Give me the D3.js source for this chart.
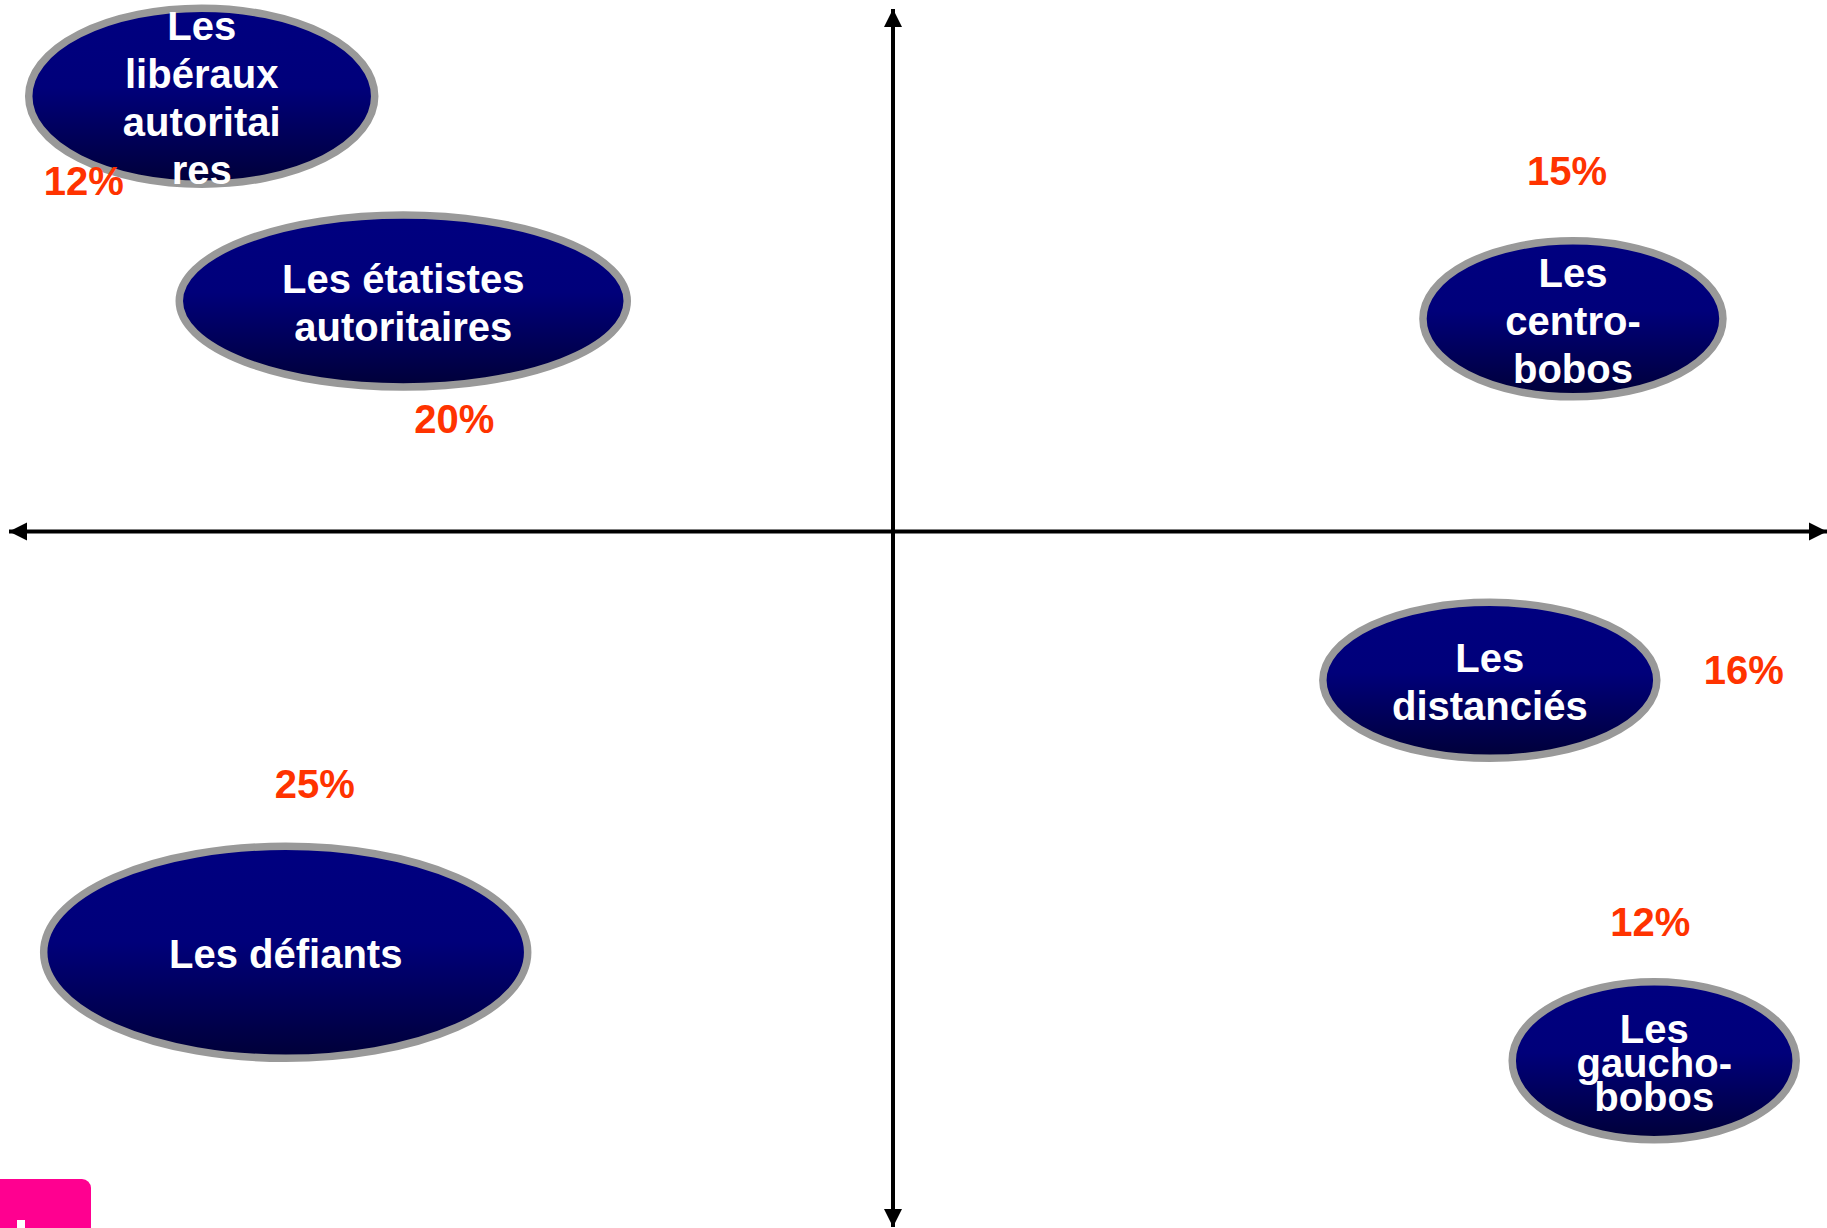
<!DOCTYPE html>
<html>
<head>
<meta charset="utf-8">
<script src="https://cdn.jsdelivr.net/npm/d3@7"></script>
<style>
  html, body { margin: 0; padding: 0; background: #fff; overflow: hidden; }
  text { font-family: "Liberation Sans", Arial, sans-serif; font-weight: bold; }
</style>
</head>
<body>
<div id="chart"></div>
<script>
const width = 1827;
const height = 1228;

// segments of the map
const segments = ["libéraux", "étatistes", "centro-bobos", "distanciés", "défiants", "gaucho-bobos"];
const labelLines = [
  ["Les", "libéraux", "autoritai", "res"],
  ["Les étatistes", "autoritaires"],
  ["Les", "centro-", "bobos"],
  ["Les", "distanciés"],
  ["Les défiants"],
  ["Les", "gaucho-", "bobos"]
];
const shares = [12, 20, 15, 16, 25, 12];
// position on the two axes (-1 .. 1)
const posX = [-0.782, -0.554, 0.728, 0.639, -0.687, 0.815];
const posY = [0.833, 0.441, 0.407, -0.214, -0.605, -0.761];

// layout: bubble radii and where each share label sits relative to its bubble
const bubbleRx = [173, 224, 150, 167, 242, 142];
const bubbleRy = [88, 86, 78, 78, 106, 79];
const shareDx = [-118, 51, -6, 254, 29, -4];
const shareDy = [85, 118, -148, -10, -168, -139];
const lineGap = [48, 48, 48, 48, 48, 34];

const data = segments.map((s, i) => ({
  name: s, lines: labelLines[i], share: shares[i], x: posX[i], y: posY[i],
  rx: bubbleRx[i], ry: bubbleRy[i], dx: shareDx[i], dy: shareDy[i], gap: lineGap[i]
}));

// Scales (origin is not centred in the slide)
const xScale = d3.scaleLinear().domain([-1, 0, 1]).range([9, 893, 1827]);
const yScale = d3.scaleLinear().domain([-1, 0, 1]).range([1227, 531.5, 9]);

const svg = d3.select('#chart').append('svg')
  .attr('width', width)
  .attr('height', height);

const defs = svg.append('defs');

const grad = defs.append('linearGradient')
  .attr('id', 'bubbleFill')
  .attr('x1', 0).attr('y1', 0).attr('x2', 0).attr('y2', 1);
grad.append('stop').attr('offset', '0%').attr('stop-color', '#000080');
grad.append('stop').attr('offset', '45%').attr('stop-color', '#00007a');
grad.append('stop').attr('offset', '100%').attr('stop-color', '#000038');

defs.append('marker')
  .attr('id', 'arrow')
  .attr('viewBox', '0 0 10 10')
  .attr('refX', 10).attr('refY', 5)
  .attr('markerWidth', 4.6).attr('markerHeight', 4.6)
  .attr('markerUnits', 'strokeWidth')
  .attr('orient', 'auto-start-reverse')
  .append('path')
  .attr('d', 'M0,0 L10,5 L0,10 Z')
  .attr('fill', '#000');

// Axes
svg.append('line')
  .attr('x1', xScale(-1)).attr('x2', xScale(1))
  .attr('y1', yScale(0)).attr('y2', yScale(0))
  .attr('stroke', '#000').attr('stroke-width', 4)
  .attr('marker-start', 'url(#arrow)')
  .attr('marker-end', 'url(#arrow)');

svg.append('line')
  .attr('x1', xScale(0)).attr('x2', xScale(0))
  .attr('y1', yScale(-1)).attr('y2', yScale(1))
  .attr('stroke', '#000').attr('stroke-width', 4)
  .attr('marker-start', 'url(#arrow)')
  .attr('marker-end', 'url(#arrow)');

// Bubbles
const g = svg.selectAll('g.segment')
  .data(data)
  .enter().append('g')
  .attr('class', 'segment')
  .attr('transform', d => `translate(${xScale(d.x)},${yScale(d.y)})`);

g.append('ellipse')
  .attr('rx', d => d.rx)
  .attr('ry', d => d.ry)
  .attr('fill', 'url(#bubbleFill)')
  .attr('stroke', '#999999')
  .attr('stroke-width', 7.5);

g.append('text')
  .attr('text-anchor', 'middle')
  .attr('fill', '#fff')
  .style('font-size', '40px')
  .selectAll('tspan')
  .data(d => d.lines.map((l, i) => ({l, i, n: d.lines.length, gap: d.gap})))
  .enter().append('tspan')
  .attr('x', 0)
  .attr('y', t => (t.i - (t.n - 1) / 2) * t.gap + 16)
  .text(t => t.l);

g.append('text')
  .attr('x', d => d.dx)
  .attr('y', d => d.dy + 14)
  .attr('text-anchor', 'middle')
  .attr('fill', '#ff3300')
  .style('font-size', '40px')
  .text(d => d.share + '%');

// corner logo fragment
svg.append('rect')
  .attr('x', -12).attr('y', 1179)
  .attr('width', 103).attr('height', 70)
  .attr('rx', 9)
  .attr('fill', '#ff0090');
svg.append('rect')
  .attr('x', 17).attr('y', 1220)
  .attr('width', 8).attr('height', 10)
  .attr('fill', '#fff');
</script>
</body>
</html>
